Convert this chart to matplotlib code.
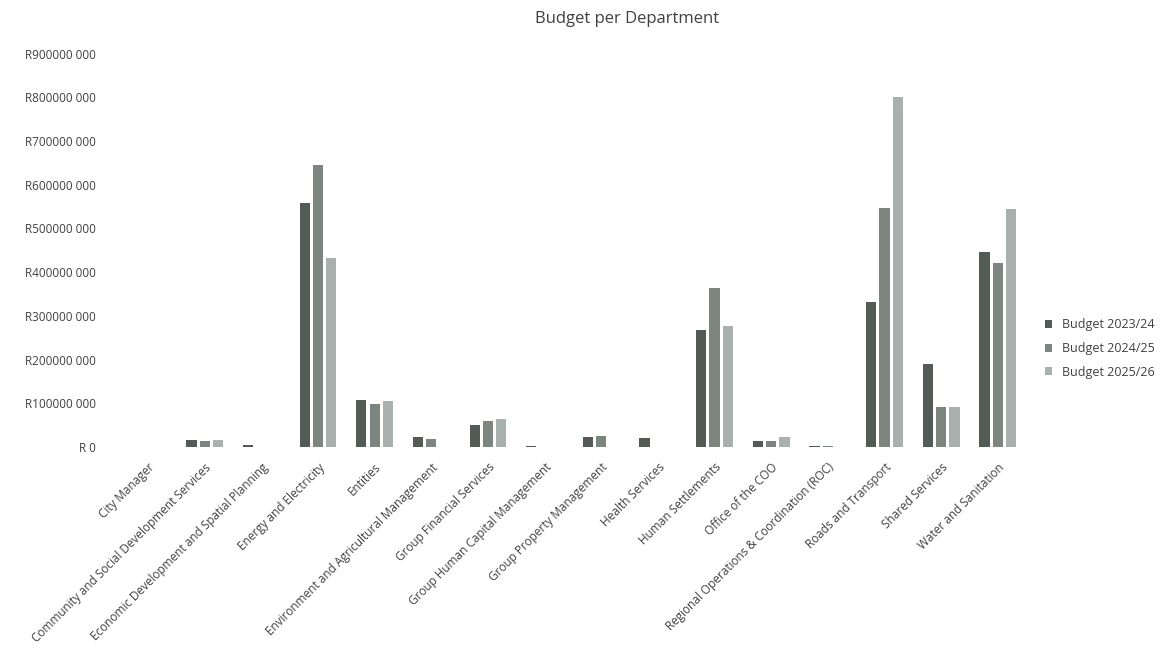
import numpy as np
import matplotlib
matplotlib.use("Agg")
import matplotlib.pyplot as plt
from matplotlib.ticker import FuncFormatter

plt.rcParams['font.family'] = ['Open Sans', 'DejaVu Sans']

departments = [
    "City Manager",
    "Community and Social Development Services",
    "Economic Development and Spatial Planning",
    "Energy and Electricity",
    "Entities",
    "Environment and Agricultural Management",
    "Group Financial Services",
    "Group Human Capital Management",
    "Group Property Management",
    "Health Services",
    "Human Settlements",
    "Office of the COO",
    "Regional Operations & Coordination (ROC)",
    "Roads and Transport",
    "Shared Services",
    "Water and Sanitation",
]

# values in millions of rand
budget_2023 = [0, 15, 4, 558, 107, 23, 50, 3, 22, 20, 268, 14, 1, 332, 190, 446]
budget_2024 = [0, 14, 0, 645, 98, 18, 59, 0, 24, 0, 364, 14, 3, 547, 91, 421]
budget_2025 = [0, 15, 0, 432, 105, 0, 64, 0, 0, 0, 277, 23, 0, 801, 91, 545]

series = [("Budget 2023/24", budget_2023, "#535b57"),
          ("Budget 2024/25", budget_2024, "#7d8581"),
          ("Budget 2025/26", budget_2025, "#a9b1ae")]

fig = plt.figure(figsize=(11.74, 6.64), dpi=100)
ax = fig.add_axes([0.102, 0.327, 0.772, 0.592])

x = np.arange(len(departments))
w = 0.18
step = 0.235
for k, (name, vals, col) in enumerate(series):
    ax.bar(x + (k - 1) * step, np.array(vals) * 1e6, width=w, color=col, label=name)

ax.set_xlim(-0.5, len(departments) - 0.5)
ax.set_ylim(0, 900e6)
ax.set_yticks(np.arange(0, 901e6, 100e6))

def rand_fmt(v, pos):
    if v == 0:
        return "R 0"
    return "R%d 000" % int(round(v / 1000))

ax.yaxis.set_major_formatter(FuncFormatter(rand_fmt))
ax.set_xticks(x)
ax.set_xticklabels(departments, rotation=45, ha='right', rotation_mode='anchor',
                   fontsize=8.5, color='#404040')
ax.tick_params(axis='both', length=0, colors='#404040')
ax.tick_params(axis='y', pad=17, labelsize=8.5)
ax.tick_params(axis='x', pad=10)
for s in ax.spines.values():
    s.set_visible(False)

fig.text(0.534, 0.972, "Budget per Department", ha='center', va='center',
         fontsize=12, color='#404040')

ax.legend(loc='center left', bbox_to_anchor=(1.008, 0.25), frameon=False,
          fontsize=9, handlelength=0.6, handleheight=0.6, labelspacing=0.85,
          labelcolor='#404040')

fig.savefig("out.png", dpi=100, facecolor='white')
